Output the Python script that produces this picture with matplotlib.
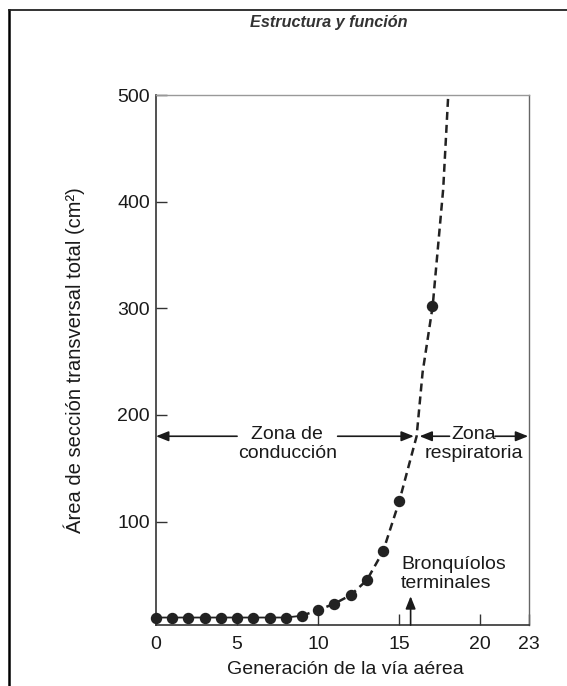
import matplotlib
matplotlib.use("Agg")
import matplotlib.pyplot as plt
from matplotlib.lines import Line2D

plt.rcParams['font.family'] = ['Liberation Sans', 'DejaVu Sans']

# Datos
generacion = [0, 1, 2, 3, 4, 5, 6, 7, 8, 9, 10, 11, 12, 13, 14, 15, 17]
area = [10, 10, 10, 10, 10, 10, 10, 10, 10, 11.7, 17, 23, 31, 45, 72, 119, 302]

# Curva discontinua
curva_x = [9, 10, 11, 12, 13, 14, 15, 16.07, 16.44, 17.06, 17.71, 18.02]
curva_y = [11.7, 17, 23, 31, 45, 72, 119, 180, 240, 302, 412, 500]

x_ticks = [0, 5, 10, 15, 20, 23]
y_ticks = [100, 200, 300, 400, 500]

FS = 14
TXT = '#1a1a1a'

fig = plt.figure(figsize=(5.67, 6.86), dpi=100)
ax = fig.add_axes([156 / 567, 61 / 686, 373 / 567, 530 / 686])

# Línea continua entre las primeras generaciones
ax.plot(generacion[:10], area[:10], color='#222222', lw=1.3, zorder=2)
# Curva discontinua
ax.plot(curva_x, curva_y, color='#222222', lw=1.8, ls=(0, (3.2, 2.0)), zorder=2)
# Puntos
ax.plot(generacion, area, 'o', color='#222222', ms=7.2, zorder=3, clip_on=False)

ax.set_xlim(0, 23)
ax.set_ylim(3, 500)
ax.set_xticks(x_ticks)
ax.set_yticks(y_ticks)
ax.tick_params(axis='both', direction='in', length=8, width=1.0, color='#333333',
               labelsize=FS, labelcolor=TXT)
ax.tick_params(axis='x', pad=8)
ax.tick_params(axis='y', pad=4.5)

for lado in ['left', 'bottom']:
    ax.spines[lado].set_color('#333333')
    ax.spines[lado].set_linewidth(1.2)
ax.spines['right'].set_color('#666666')
ax.spines['right'].set_linewidth(1.0)
ax.spines['top'].set_color('#999999')
ax.spines['top'].set_linewidth(1.0)

flecha = dict(arrowstyle='-|>,head_length=0.75,head_width=0.3', color='#1a1a1a',
              lw=1.2, shrinkA=0, shrinkB=0)
y_flecha = 180
ax.annotate('', xy=(0, y_flecha), xytext=(5.0, y_flecha), arrowprops=flecha)
ax.annotate('', xy=(15.9, y_flecha), xytext=(11.2, y_flecha), arrowprops=flecha)
ax.annotate('', xy=(16.25, y_flecha), xytext=(18.1, y_flecha), arrowprops=flecha)
ax.annotate('', xy=(22.95, y_flecha), xytext=(20.9, y_flecha), arrowprops=flecha)
ax.text(8.1, 173, 'Zona de\nconducción', ha='center', va='center', fontsize=FS,
        color=TXT, linespacing=1.15)
ax.text(19.6, 173, 'Zona\nrespiratoria', ha='center', va='center', fontsize=FS,
        color=TXT, linespacing=1.15)

ax.annotate('', xy=(15.7, 30), xytext=(15.7, 3), arrowprops=flecha)
ax.text(15.1, 51, 'Bronquíolos\nterminales', ha='left', va='center', fontsize=FS,
        color=TXT, linespacing=1.15)

fig.text(74 / 567, 1 - 360 / 686, 'Área de sección transversal total (cm²)',
         rotation=90, ha='center', va='center', fontsize=14.5, color=TXT)
fig.text(345 / 567, 1 - 670 / 686, 'Generación de la vía aérea', ha='center',
         va='center', fontsize=FS, color=TXT)
fig.text(329 / 567, 1 - 23 / 686, 'Estructura y función', ha='center', va='center',
         fontsize=11.7, fontweight='bold', fontstyle='italic', color='#333333')

# Marco de la página escaneada
fig.add_artist(Line2D([9 / 567, 9 / 567], [0, 1 - 10 / 686], color='black', lw=1.8))
fig.add_artist(Line2D([9 / 567, 1], [1 - 10 / 686, 1 - 10 / 686], color='#222222', lw=1.3))

fig.savefig('out.png', dpi=100)
